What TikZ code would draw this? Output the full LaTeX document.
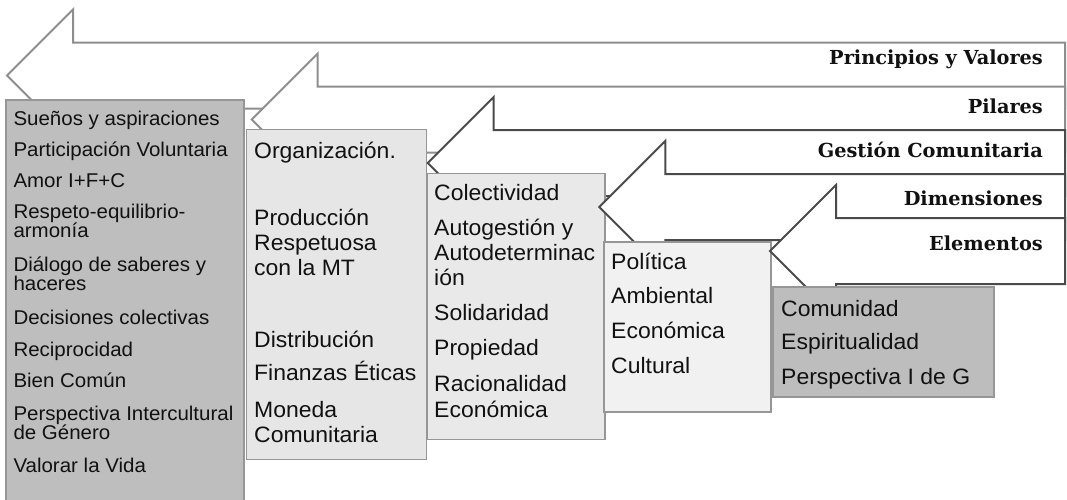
\documentclass[tikz,border=0pt]{standalone}
\usepackage{fontspec}
\setmainfont{Liberation Sans}
\newfontfamily\boxfont{Liberation Sans}[FakeStretch=1.03]
\newfontfamily\lblfont{DejaVu Serif}
\definecolor{arrowlight}{HTML}{8E8E8E}
\definecolor{arrowdark}{HTML}{4A4A4A}
\definecolor{panelborder}{HTML}{969696}
\definecolor{fillA}{HTML}{BEBEBE}
\definecolor{fillB}{HTML}{E6E6E6}
\definecolor{fillC}{HTML}{E9E9E9}
\definecolor{fillD}{HTML}{F1F1F1}
\definecolor{fillE}{HTML}{BDBDBD}
\definecolor{txt}{HTML}{111111}
\newcommand\flowarrow[3]{%
  \draw[#3] (#1,#2+33) -- (#1+66,#2-33) -- (#1+66,#2) -- (1065,#2) -- (1065,#2+66)
     -- (#1+66,#2+66) -- (#1+66,#2+99) -- cycle;}
\tikzset{
  arrowlt/.style={draw=arrowlight, fill=white, line width=2pt, line join=miter},
  arrowdk/.style={draw=arrowdark, fill=white, line width=2pt, line join=miter},
  panel/.style={draw=panelborder, line width=1.5pt, rectangle, anchor=north west, inner sep=0pt, outer sep=0pt},
  smalltxt/.style={anchor=base west, inner sep=0pt, text=txt, font=\boxfont\fontsize{19.9}{20}\selectfont},
  bigtxt/.style={anchor=base west, inner sep=0pt, text=txt, font=\boxfont\fontsize{22.3}{24}\selectfont},
  lbl/.style={anchor=base east, inner sep=0pt, text=txt, font=\lblfont\bfseries\fontsize{19.3}{20}\selectfont}
}
\begin{document}
\begin{tikzpicture}[x=1pt,y=-1pt]
\useasboundingbox (0,0) rectangle (1067,499);
\clip (0,0) rectangle (1067,499);
% arrows and panels, back to front
\flowarrow{7}{42.5}{arrowlt}
\node[panel, fill=fillA, minimum width=238pt, minimum height=430pt] (b1) at (6,100) {};
\flowarrow{251.7}{86.5}{arrowlt}
\node[panel, fill=fillB, minimum width=180pt, minimum height=330pt] (b2) at (246.5,129.5) {};
\flowarrow{427.7}{130}{arrowdk}
\node[panel, fill=fillC, minimum width=177.5pt, minimum height=266pt] (b3) at (427.5,173.5) {};
\flowarrow{599.3}{174}{arrowdk}
\node[panel, fill=fillD, minimum width=167pt, minimum height=170pt] (b4) at (604,242) {};
\flowarrow{770}{218}{arrowdk}
\node[panel, fill=fillE, minimum width=221pt, minimum height=110pt] (b5) at (773,287) {};
% labels
\node[lbl] (l1) at (1043,64.5) {Principios y Valores};
\node[lbl] (l2) at (1043,113) {Pilares};
\node[lbl] (l3) at (1043,157.5) {Gestión Comunitaria};
\node[lbl] (l4) at (1043,205) {Dimensiones};
\node[lbl] (l5) at (1043,250.7) {Elementos};
% box 1 text
\node[smalltxt] (t1a) at (13.3,125.5) {Sueños y aspiraciones};
\node[smalltxt] (t1b) at (13.3,156.5) {Participación Voluntaria};
\node[smalltxt] (t1c) at (13.3,187.5) {Amor I+F+C};
\node[smalltxt] (t1d) at (13.3,218.5) {Respeto-equilibrio-};
\node[smalltxt] (t1e) at (13.3,237.5) {armonía};
\node[smalltxt] (t1f) at (13.3,271.5) {Diálogo de saberes y};
\node[smalltxt] (t1g) at (13.3,290.5) {haceres};
\node[smalltxt] (t1h) at (13.3,324) {Decisiones colectivas};
\node[smalltxt] (t1i) at (13.3,356) {Reciprocidad};
\node[smalltxt] (t1j) at (13.3,387.5) {Bien Común};
\node[smalltxt] (t1k) at (13.3,420) {Perspectiva Intercultural};
\node[smalltxt] (t1l) at (13.3,439) {de Género};
\node[smalltxt] (t1m) at (13.3,472) {Valorar la Vida};
% box 2 text
\node[bigtxt] (t2a) at (254,158.3) {Organización.};
\node[bigtxt] (t2b) at (254,225) {Producción};
\node[bigtxt] (t2c) at (254,250.3) {Respetuosa};
\node[bigtxt] (t2d) at (254,275.6) {con la MT};
\node[bigtxt] (t2e) at (254,347.3) {Distribución};
\node[bigtxt] (t2f) at (254,380.7) {Finanzas Éticas};
\node[bigtxt] (t2g) at (254,417.3) {Moneda};
\node[bigtxt] (t2h) at (254,442.7) {Comunitaria};
% box 3 text
\node[bigtxt] (t3a) at (434,200.7) {Colectividad};
\node[bigtxt] (t3b) at (434,235) {Autogestión y};
\node[bigtxt] (t3c) at (434,260.3) {Autodeterminac};
\node[bigtxt] (t3d) at (434,285) {ión};
\node[bigtxt] (t3e) at (434,320) {Solidaridad};
\node[bigtxt] (t3f) at (434,355) {Propiedad};
\node[bigtxt] (t3g) at (434,391) {Racionalidad};
\node[bigtxt] (t3h) at (434,417) {Económica};
% box 4 text
\node[bigtxt] (t4a) at (611,269) {Política};
\node[bigtxt] (t4b) at (611,303.5) {Ambiental};
\node[bigtxt] (t4c) at (611,338) {Económica};
\node[bigtxt] (t4d) at (611,373) {Cultural};
% box 5 text
\node[bigtxt] (t5a) at (781,316) {Comunidad};
\node[bigtxt] (t5b) at (781,349.5) {Espiritualidad};
\node[bigtxt] (t5c) at (781,384) {Perspectiva I de G};
\end{tikzpicture}
\end{document}
